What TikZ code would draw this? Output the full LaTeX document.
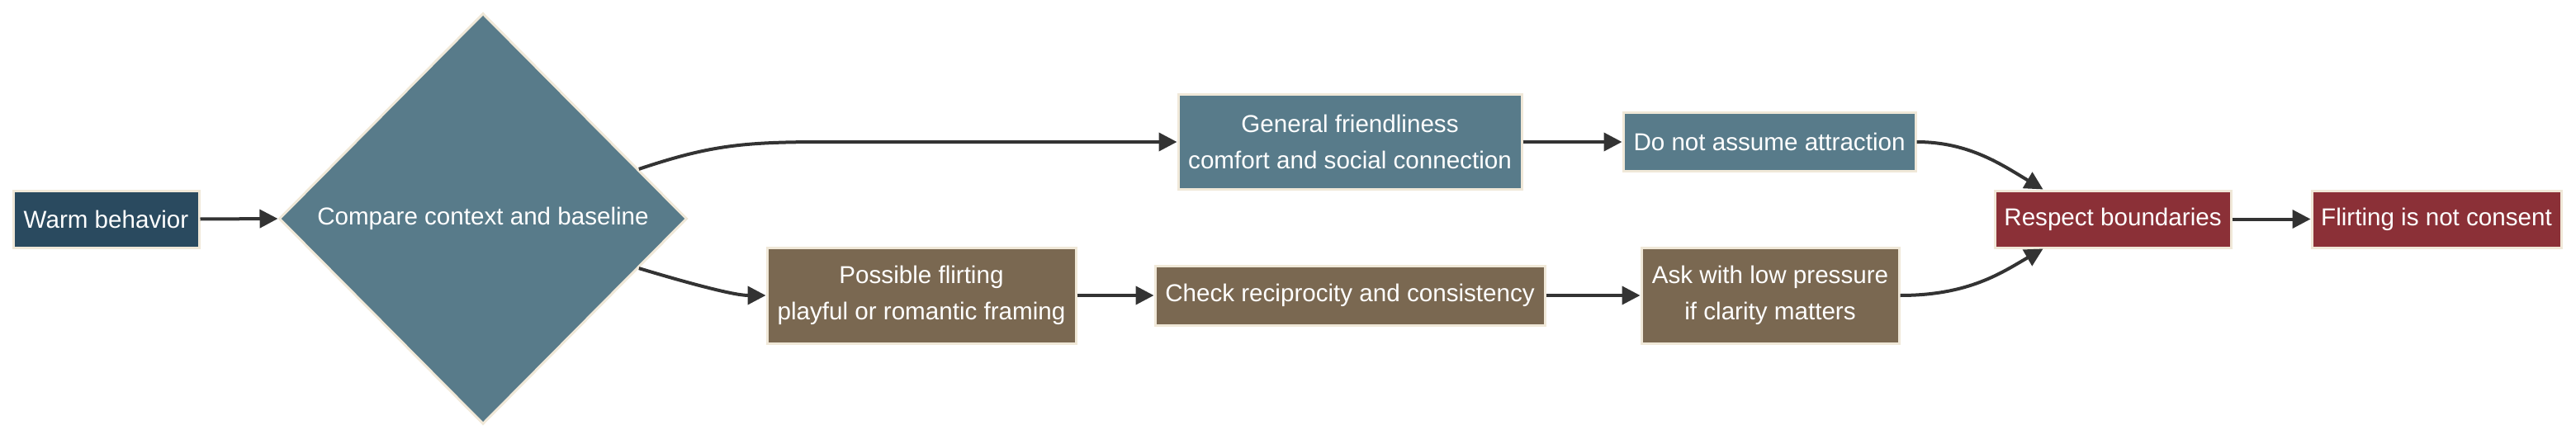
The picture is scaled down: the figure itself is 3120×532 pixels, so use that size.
\documentclass[tikz,border=0pt]{standalone}
\usepackage{fontspec}
\setmainfont{Liberation Sans}
\usetikzlibrary{shapes.geometric,arrows.meta,calc}
\definecolor{navy}{HTML}{2A4A5F}
\definecolor{steel}{HTML}{587B8A}
\definecolor{brownbox}{HTML}{7A6851}
\definecolor{redbox}{HTML}{8B3037}
\definecolor{cream}{HTML}{F0E8D8}
\definecolor{edge}{HTML}{333333}
\tikzset{
  box/.style={draw=cream, line width=3pt, text=white, inner sep=0pt, align=center,
    font=\fontsize{29.6}{44}\selectfont},
  conn/.style={draw=edge, line width=4pt, -{Triangle[length=22pt,width=22pt]}},
}
\begin{document}
\begin{tikzpicture}[x=1pt,y=-1pt]
\useasboundingbox (0,0) rectangle (3120,532);
\node[box, fill=navy, minimum width=225pt, minimum height=69pt] (warm) at (128.5,265.5) {Warm behavior};
\node[box, diamond, fill=steel, minimum width=494pt, minimum height=498pt] (dia) at (585,265) {Compare context and baseline};
\node[box, fill=steel, minimum width=416pt, minimum height=114pt] (gen) at (1635,172) {General friendliness\\comfort and social connection};
\node[box, fill=steel, minimum width=354pt, minimum height=70pt] (dna) at (2143,172) {Do not assume attraction};
\node[box, fill=redbox, minimum width=286pt, minimum height=69pt] (resp) at (2559,265.5) {Respect boundaries};
\node[box, fill=redbox, minimum width=302pt, minimum height=69pt] (flirt) at (2951,265.5) {Flirting is not consent};
\node[box, fill=brownbox, minimum width=374pt, minimum height=116pt] (pos) at (1116,358) {Possible flirting\\playful or romantic framing};
\node[box, fill=brownbox, minimum width=472pt, minimum height=72pt] (chk) at (1635,358) {Check reciprocity and consistency};
\node[box, fill=brownbox, minimum width=312pt, minimum height=116pt] (ask) at (2144,358) {Ask with low pressure\\if clarity matters};
\coordinate (dtop) at ($(dia.east)!0.24!(dia.north)$);
\coordinate (dbot) at ($(dia.east)!0.24!(dia.south)$);
\coordinate (rtop) at ($(resp.north west)+(60,0)$);
\coordinate (rbot) at ($(resp.south west)+(60,0)$);
\draw[conn] (warm.east) -- (dia.west);
\draw[conn] (dtop) .. controls (860,176) and (900,172) .. (1000,172) -- (gen.west);
\draw[conn] (dbot) .. controls (840,345) and (890,358) .. (pos.west);
\draw[conn] (gen.east) -- (dna.west);
\draw[conn] (pos.east) -- (chk.west);
\draw[conn] (chk.east) -- (ask.west);
\draw[conn] (dna.east) .. controls (2385,172) and (2425,200) .. (rtop);
\draw[conn] (ask.east) .. controls (2385,358) and (2425,330) .. (rbot);
\draw[conn] (resp.east) -- (flirt.west);
\end{tikzpicture}
\end{document}
